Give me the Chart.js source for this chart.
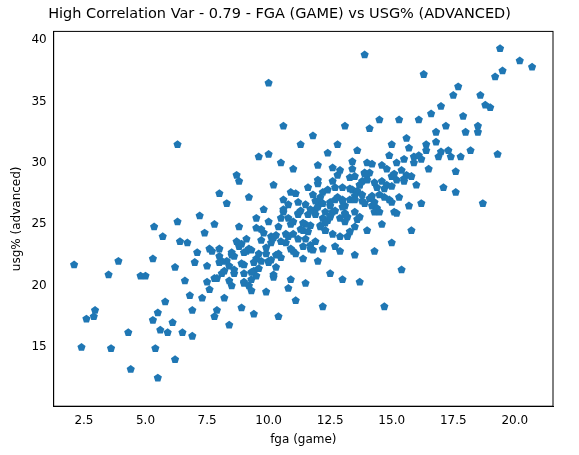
<!DOCTYPE html>
<html><head><meta charset="utf-8">
<script src="https://cdn.jsdelivr.net/npm/chart.js@4"></script>
<style>body{margin:0;background:#fff}#w{width:579px;height:455px}</style>
</head><body><div id="w"><canvas id="c"></canvas></div>
<script>
// fga (game), usg% (advanced) pairs
const fga = [2.1,2.4,2.6,2.9,2.95,3.5,3.6,3.9,4.3,4.4,4.8,5.0,5.3,5.3,5.35,5.4,5.5,5.5,5.6,5.7,5.8,5.9,6.1,6.2,6.2,6.3,6.3,6.4,6.5,6.6,6.7,6.8,6.9,6.9,7.0,7.1,7.2,7.3,7.4,7.5,7.6,7.7,7.8,7.8,7.9,8.0,8.0,8.1,8.2,8.3,8.4,8.5,8.6,8.7,8.8,8.8,8.9,9.0,9.1,9.2,9.3,9.4,9.5,9.6,9.7,9.8,9.9,10.0,10.0,10.1,10.2,10.3,10.4,10.5,10.6,10.6,10.7,10.8,10.9,11.0,11.0,11.1,11.2,11.3,11.4,11.5,11.6,11.7,11.8,11.9,12.0,12.0,12.1,12.2,12.3,12.4,12.5,12.5,12.6,12.7,12.8,12.9,13.0,13.0,13.1,13.2,13.3,13.4,13.5,13.5,13.6,13.7,13.8,13.9,14.0,14.0,14.1,14.2,14.3,14.4,14.5,14.6,14.7,14.8,14.9,15.0,15.0,15.1,15.2,15.3,15.4,15.5,15.6,15.7,15.8,15.9,16.0,16.1,16.2,16.3,16.4,16.5,16.6,16.8,16.9,17.0,17.1,17.2,17.3,17.5,17.6,17.7,17.8,17.9,18.0,18.2,18.5,18.6,18.7,18.8,19.0,19.2,19.3,19.4,19.5,20.2,20.7,18.5,17.4,
 8.2,8.5,8.9,9.2,9.5,9.8,10.1,10.4,10.7,11.0,11.3,11.6,11.9,12.2,12.5,12.8,13.1,13.4,13.7,14.0,
 8.0,8.4,8.8,9.1,9.4,9.7,10.0,10.3,10.6,10.9,11.2,11.5,11.8,12.1,12.4,12.7,13.0,13.3,13.6,13.9,
 7.8,8.3,8.7,9.0,9.3,9.6,9.9,10.2,10.5,10.8,11.1,11.4,11.7,12.0,12.3,12.6,12.9,13.2,13.5,13.8,14.2,14.6,
 9.0,9.5,10.0,10.5,11.0,11.5,12.0,12.5,13.0,13.5,14.0,14.5,15.0,15.5,
 11.2,11.7,12.2,12.6,13.1,13.6,14.1,14.4,12.0,12.8,13.3,12.4,11.9,13.7,14.8,15.2,
 7.5,7.9,8.6,9.3,10.2,10.8,11.4,12.2,12.9,13.6,14.3,15.0,15.6,16.2,16.8,
 8.1,8.6,9.0,9.4,9.9,10.3,10.8,11.2,11.6,12.0,12.3,12.7,13.1,13.5,13.9,14.3,14.7,15.1,15.5,15.9,
 8.4,8.9,9.3,9.7,10.1,10.5,10.9,11.3,11.7,12.1,12.5,12.9,13.3,13.7,14.1,14.5,14.9,15.3,15.7,16.1,
 7.6,8.0,8.5,9.0,9.5,10.0,10.4,10.9,11.4,11.8,12.2,12.6,13.0,13.4,13.8,14.2,14.6,15.0,15.4,16.4,
 9.2,9.6,10.2,10.6,11.1,11.5,11.9,12.3,12.7,13.1,13.5,13.9,14.3,14.7,15.2,15.8,17.0,17.6],
usg = [21.7,15,17.3,17.5,18,20.9,14.9,22,16.2,13.2,20.8,20.8,17.2,22.2,24.8,14.9,12.5,17.8,16.4,24,18.7,16.2,17,14,21.5,31.5,25.2,23.6,16.2,20.4,23.5,19.2,18,15.9,21.9,22.7,25.7,19,24.3,20.3,19.7,22.8,25,17.5,18,27.5,23,21,19,26.7,16.8,20,22.4,29,28.5,24.8,18.2,21.7,23.8,27.2,20.5,17.7,25.5,30.5,22,26.2,19.5,36.5,30.7,24,28.2,21.5,17.5,30,27,33,23.5,25.5,20.5,29.5,22.8,18.8,26.8,31.5,24.5,20.2,28,23,32.2,25.8,22,29.8,27.2,18.3,24.5,30.8,26.5,21,28.5,23.2,31.5,25.5,20.5,28,33,24,27,29.5,22.5,26,31,20.3,28.5,38.8,24.5,30,32.8,26.5,22.8,28,33.5,25,18.3,29.5,27,31.5,23.5,26,30,33.5,21.3,28.5,32,26.5,24.5,30.5,28.2,33.5,26.7,37.2,31,29.5,34,32.5,30.5,34.6,28,33,31,35.5,29.3,36.2,30.5,33.8,32.5,31,33,35.5,26.7,34.7,34.5,37,30.7,39.3,37.5,38.3,37.8,32.5,30.5,
 21.2,22.5,21.8,23,22.2,24.3,23.5,24.8,24.2,25.2,24.6,25.8,26.2,25.5,26.8,27.2,26.5,27.8,28.2,28.6,
 22.4,21.6,23.2,22.8,21.2,24.6,25.2,24.1,26.2,25.0,23.8,26.6,27.4,24.8,27.8,26.1,27.0,28.8,27.6,29.2,
 20.6,22.0,23.6,20.2,22.9,21.4,22.6,23.9,22.3,26.6,27.5,23.2,24.9,28.6,26.0,24.2,29.4,25.6,28.9,26.9,27.3,29.8,
 21.0,20.8,22.0,23.6,24.2,25.0,26.8,25.6,26.9,24.8,29.0,27.4,28.9,30.3,
 25.8,26.2,27.6,26.0,25.2,27.7,27.1,26.3,28.3,29.0,24.4,25.3,23.6,28.2,28.2,28.6,
 21.6,20.6,21.0,19.6,20.9,19.8,22.2,23.0,22.8,25.4,26.0,28.1,29.0,30.3,31.7,
 22.0,21.3,22.7,21.9,23.1,22.5,24.0,25.9,24.4,26.4,25.1,27.0,25.9,27.3,26.7,28.4,27.9,29.1,28.7,30.0,
 20.4,23.4,21.1,23.7,22.1,25.5,23.0,26.1,23.3,24.9,25.7,24.0,27.9,25.6,29.2,26.0,30.6,27.2,31.2,30.6,
 23.0,21.9,22.7,20.3,24.7,21.9,22.6,27.6,25.1,22.9,26.7,29.6,26.4,30.1,27.4,29.9,28.5,26.8,29.4,31.5,
 20.0,22.6,20.7,26.0,22.6,23.8,26.9,24.5,28.0,25.8,27.0,29.1,26.8,27.2,25.9,28.9,30.9,27.6,32.0,33.0];
const pts = fga.map((x, i) => ({x, y: usg[i]}));
const F = {family: 'DejaVu Sans', size: 12};

new Chart(document.getElementById('c'), {
  type: 'scatter',
  data: {datasets: [{data: pts, backgroundColor: '#1f77b4', pointRadius: 0}]},
  options: {
    animation: false, responsive: true, maintainAspectRatio: false,
    layout: {padding: {left: 6, right: 26, top: 0, bottom: 4}},
    plugins: {legend: {display: false}, tooltip: {enabled: false},
      title: {display: true, text: 'High Correlation Var - 0.79 - FGA (GAME) vs USG% (ADVANCED)',
        color: '#000', font: {family: 'DejaVu Sans', size: 14.5, weight: 'normal'}, padding: {top: 6, bottom: 8}}},
    scales: {
      x: {min: 1.27, max: 21.55, border: {color: '#000'}, grid: {display: false, tickColor: '#000', tickLength: 4},
        title: {display: true, text: 'fga (game)', color: '#000', font: F, padding: {top: 2}},
        afterBuildTicks: a => { a.ticks = [2.5,5,7.5,10,12.5,15,17.5,20].map(v => ({value: v})); },
        ticks: {color: '#000', font: F, maxRotation: 0, callback: v => v.toFixed(1)}},
      y: {min: 10.2, max: 40.7, border: {color: '#000'}, grid: {display: false, tickColor: '#000', tickLength: 4},
        title: {display: true, text: 'usg% (advanced)', color: '#000', font: F},
        afterBuildTicks: a => { a.ticks = [15,20,25,30,35,40].map(v => ({value: v})); },
        ticks: {color: '#000', font: F}}
    }
  },
  plugins: [{id: 'pent', afterDatasetsDraw(ch) {
    const c = ch.ctx, m = ch.getDatasetMeta(0);
    c.save(); c.fillStyle = '#1f77b4';
    m.data.forEach(p => {
      c.beginPath();
      for (let k = 0; k < 5; k++) {
        const a = -Math.PI / 2 + k * 2 * Math.PI / 5;
        c.lineTo(p.x + 4.3 * Math.cos(a), p.y + 4.3 * Math.sin(a));
      }
      c.closePath(); c.fill();
    });
    c.restore();
  }}, {id: 'frame', afterDraw(ch) {
    const a = ch.chartArea, c = ch.ctx;
    c.save(); c.strokeStyle = '#000'; c.lineWidth = 1;
    c.strokeRect(a.left, a.top, a.right - a.left, a.bottom - a.top); c.restore();
  }}]
});
</script></body></html>
